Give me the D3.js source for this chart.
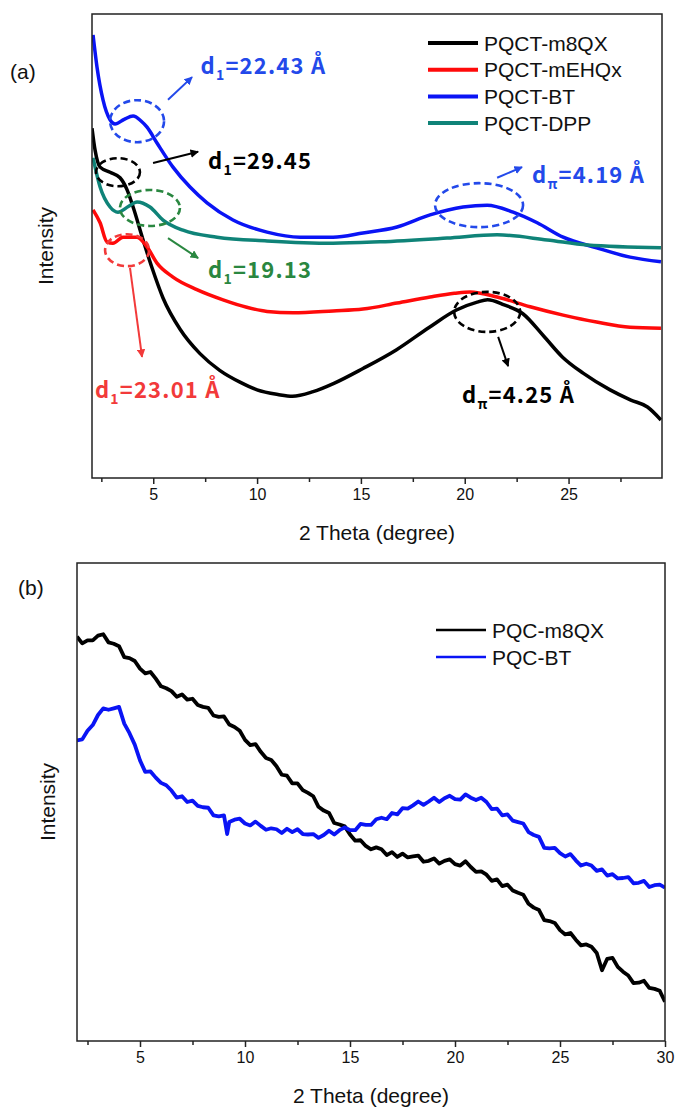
<!DOCTYPE html>
<html>
<head>
<meta charset="utf-8">
<script src="https://cdn.jsdelivr.net/npm/d3@7"></script>
<style>
  body { margin: 0; background: #fff; }
  text { font-family: "Liberation Sans", Arial, sans-serif; }
  .ann { font-family: "Noto Sans CJK KR", "Noto Sans", sans-serif; font-weight: bold; letter-spacing: 1.2px; }
</style>
</head>
<body>
<div id="chart"></div>
<script>
// ---- panel (a) data: 2 theta (degree) vs intensity (a.u.) ----
var thetaM8QX = [2.05,2.2,2.44,2.92,3.4,3.74,4.03,4.51,4.94,5.47,6.3,7.25,8.2,9.2,10.0,11.0,11.7,12.7,13.7,15.1,16.7,18.3,19.6,20.6,21.1,21.9,22.8,23.8,24.7,25.7,27.0,28.0,28.8,29.45];
var intM8QX   = [75.4,70.6,67,65.9,64.7,62.1,58.4,51.3,45.3,38.8,32,26.8,23.2,20.6,19.0,18.0,17.6,18.6,20.4,23.6,27.6,32.5,36.2,37.9,38.4,37.3,35.4,30.6,26.1,22.6,19,16.8,15.3,12.5];

var thetaMEHQx = [2.1,2.44,2.77,3.06,3.54,4.22,4.7,5.18,5.95,7.1,8.36,9.5,10.48,11.73,13.66,15.1,16.74,18.33,19.5,20.26,21.56,23.15,24.74,26.35,27.96,29.45];
var intMEHQx   = [57.8,55,50.9,50.6,51.9,51.9,49.8,46.3,43.3,40.6,38.4,36.8,35.9,35.6,36.0,36.4,37.7,39.0,39.8,40.1,39.0,36.9,35.1,33.6,32.5,32.3];

var thetaBT = [2.1,2.29,2.58,2.92,3.16,3.6,4.03,4.4,4.7,5.18,5.95,6.77,7.59,8.84,10.48,12.07,13.66,15.1,16.74,18.33,19.92,21.08,22.33,23.49,24.74,26.35,27.96,29.45];
var intBT   = [95.5,88.6,81.5,77.2,76.3,77.3,78.0,77,75.6,72.2,67.0,62.7,59.3,55.6,53.0,51.9,51.9,52.8,54.1,56.7,58.4,58.8,57.3,55.0,51.9,49.6,47.6,46.6];

var thetaDPP = [2.1,2.44,2.92,3.3,3.8,4.22,4.84,5.47,6.43,8.07,10.48,13.66,15.92,19.15,21.56,23.97,25.9,29.45];
var intDPP   = [69.0,62.7,58.4,57.3,58.5,59.5,58.4,55.6,53.4,51.9,51.1,50.6,50.9,51.7,52.4,51.3,50.2,49.6];

var namesA = ["PQCT-m8QX", "PQCT-mEHQx", "PQCT-BT", "PQCT-DPP"];

// ---- panel (b) data (noisy scans, read every 0.25 degree) ----
var thetaPQCm8QX = [
  2,2.25,2.5,2.75, 3,3.25,3.5,3.75, 4,4.25,4.5,4.75, 5,5.25,5.5,5.75, 6,6.25,6.5,6.75,
  7,7.25,7.5,7.75, 8,8.25,8.5,8.75, 9,9.25,9.5,9.75, 10,10.25,10.5,10.75, 11,11.25,11.5,11.75,
  12,12.25,12.5,12.75, 13,13.25,13.5,13.75, 14,14.25,14.5,14.75, 15,15.25,15.5,15.75,
  16,16.25,16.5,16.75, 17,17.25,17.5,17.75, 18,18.25,18.5,18.75, 19,19.25,19.5,19.75,
  20,20.25,20.5,20.75, 21,21.25,21.5,21.75, 22,22.25,22.5,22.75, 23,23.25,23.5,23.75,
  24,24.25,24.5,24.75, 25,25.25,25.5,25.75, 26,26.25,26.5,26.75, 27,27.25,27.5,27.75,
  28,28.25,28.5,28.75, 29,29.25,29.5,29.75, 30];
var intPQCm8QX = [
  84.6,83.2,83.8,83.8, 84.8,85.1,83.4,83.1, 82.6,80.3,80.1,79.5, 77.9,76.9,77.2,75.8, 74.2,73.8,73.2,72.0,
  72.5,71.4,71.6,70.3, 69.9,69.7,68.1,67.8, 67.9,66.2,65.7,64.9, 63.0,61.9,62.1,60.5, 59.2,58.8,57.5,55.7,
  55.5,53.9,53.9,52.5, 51.9,51.2,49.0,48.2, 47.7,45.6,45.3,44.9, 43.2,41.9,42.0,40.8,
  40.1,40.5,40.1,38.9, 39.5,38.5,39.2,38.4, 38.6,38.8,37.5,37.7, 38.2,37.1,37.7,38.0,
  37.0,36.7,37.6,36.4, 35.4,35.5,34.8,33.5, 33.8,32.4,32.7,31.5, 31.0,30.6,28.7,27.9,
  27.4,25.3,25.1,24.7, 23.2,22.3,22.6,21.2, 20.0,20.2,19.7,18.4, 14.8,17.2,17.4,15.5,
  14.5,13.7,12.1,12.2, 12.6,11.1,10.9,10.5, 8.2];

var thetaPQCBT = [
  2,2.25,2.5,2.75, 3,3.25,3.5,3.75, 4,4.25,4.5,4.75, 5,5.25,5.5,5.75, 6,6.25,6.5,6.75,
  7,7.25,7.5,7.75, 8,8.25,8.5,8.75, 9,9.15,9.25,9.5,9.75, 10,10.25,10.5,10.75, 11,11.25,11.5,11.75,
  12,12.25,12.5,12.75, 13,13.25,13.5,13.75, 14,14.25,14.5,14.75, 15,15.25,15.5,15.75,
  16,16.25,16.5,16.75, 17,17.25,17.5,17.75, 18,18.25,18.5,18.75, 19,19.25,19.5,19.75,
  20,20.25,20.5,20.75, 21,21.25,21.5,21.75, 22,22.25,22.5,22.75, 23,23.25,23.5,23.75,
  24,24.25,24.5,24.75, 25,25.25,25.5,25.75, 26,26.25,26.5,26.75, 27,27.25,27.5,27.75,
  28,28.25,28.5,28.75, 29,29.25,29.5,29.75, 30];
var intPQCBT = [
  62.9,63.1,64.9,66.1, 68.2,69.6,69.3,69.6, 69.9,66.4,64.4,62.0, 58.7,56.3,56.4,55.1, 54.0,53.5,52.4,50.9,
  51.2,50.0,50.3,49.2, 48.9,48.8,47.2,47.0, 47.2,43.3,45.8,46.3,46.5, 45.5,45.1,45.9,45.0, 44.2,44.5,44.3,43.5,
  44.4,43.7,44.3,43.3, 43.2,43.3,42.5,43.1, 44.0,43.2,44.1,44.7, 44.1,44.1,45.4,45.2,
  45.2,46.4,46.7,46.4, 47.7,47.4,48.7,48.6, 49.3,50.1,49.4,50.1, 50.9,50.0,50.8,51.3,
  50.6,50.5,51.6,50.9, 50.4,50.9,50.0,48.5, 48.6,47.2,47.4,46.1, 45.8,45.5,43.7,43.1,
  42.7,40.4,40.3,40.4, 39.3,38.6,39.1,37.8, 36.7,37.1,36.7,35.6, 35.9,34.6,34.9,34.0,
  34.1,34.3,33.0,33.1, 33.5,32.2,32.6,32.7, 32.1];

var namesB = ["PQC-m8QX", "PQC-BT"];

var W = 675, H = 1109;
var svg = d3.select("#chart").append("svg")
    .attr("width", W).attr("height", H)
    .style("background", "#fff");

function zipData(xs, ys) {
  return xs.map(function(x, i) { return {x: x, y: ys[i]}; });
}

function drawPanel(p) {
  var x = d3.scaleLinear().domain(p.xDomain).range([p.left, p.right]);
  var y = d3.scaleLinear().domain([0, 100]).range([p.bottom, p.top]);
  var g = svg.append("g");

  // curves
  var line = d3.line().x(function(d) { return x(d.x); }).y(function(d) { return y(d.y); })
      .curve(p.curve);
  var clipId = "clip" + p.id;
  svg.append("clipPath").attr("id", clipId).append("rect")
      .attr("x", p.left).attr("y", p.top)
      .attr("width", p.right - p.left).attr("height", p.bottom - p.top);
  p.series.forEach(function(s) {
    g.append("path")
        .datum(zipData(s.xs, s.ys))
        .attr("clip-path", "url(#" + clipId + ")")
        .attr("fill", "none")
        .attr("stroke", s.color)
        .attr("stroke-width", p.lineWidth)
        .attr("stroke-linejoin", "round")
        .attr("d", line);
  });

  // frame
  g.append("rect")
      .attr("x", p.left).attr("y", p.top)
      .attr("width", p.right - p.left).attr("height", p.bottom - p.top)
      .attr("fill", "none").attr("stroke", "#222").attr("stroke-width", 1.5);

  // bottom axis: major + minor ticks
  var ax = g.append("g").attr("transform", "translate(0," + p.bottom + ")")
      .call(d3.axisBottom(x).tickValues(p.majors).tickSize(6).tickPadding(5).tickFormat(d3.format("d")));
  ax.select(".domain").remove();
  ax.selectAll("line").attr("stroke", "#222").attr("stroke-width", 1.5);
  ax.selectAll("text").attr("font-size", 16).attr("fill", "#111")
      .attr("font-family", "Liberation Sans, Arial, sans-serif");
  var axm = g.append("g").attr("transform", "translate(0," + p.bottom + ")")
      .call(d3.axisBottom(x).tickValues(p.minors).tickSize(4).tickFormat(""));
  axm.select(".domain").remove();
  axm.selectAll("line").attr("stroke", "#222").attr("stroke-width", 1.5);

  // axis titles
  g.append("text")
      .attr("x", (p.left + p.right) / 2).attr("y", p.bottom + 62)
      .attr("text-anchor", "middle").attr("font-size", 21).attr("fill", "#111")
      .text("2 Theta (degree)");
  g.append("text")
      .attr("transform", "translate(" + p.yTitleX + "," + ((p.top + p.bottom) / 2) + ") rotate(-90)")
      .attr("text-anchor", "middle").attr("dy", "0.35em")
      .attr("font-size", 21).attr("fill", "#111")
      .text("Intensity");
  g.append("text")
      .attr("x", p.tagX).attr("y", p.tagY).attr("dy", "0.35em")
      .attr("font-size", 21).attr("fill", "#111")
      .text(p.tag);

  // legend
  var lg = g.append("g");
  p.series.forEach(function(s, i) {
    var ly = p.legendY + i * p.legendStep;
    lg.append("line")
        .attr("x1", p.legendX).attr("x2", p.legendX + p.legendLen)
        .attr("y1", ly).attr("y2", ly)
        .attr("stroke", s.color).attr("stroke-width", p.legendWidth);
    lg.append("text")
        .attr("x", p.legendX + p.legendLen + 6).attr("y", ly).attr("dy", "0.36em")
        .attr("font-size", 21).attr("fill", "#111")
        .text(s.name);
  });

  return {x: x, y: y, g: g};
}

var panelA = drawPanel({
  id: "a", left: 92, right: 662, top: 14, bottom: 478,
  xDomain: [2.05, 29.5],
  majors: [5, 10, 15, 20, 25], minors: [2.5, 7.5, 12.5, 17.5, 22.5, 27.5],
  curve: d3.curveMonotoneX, lineWidth: 3.5,
  yTitleX: 46, tag: "(a)", tagX: 10, tagY: 72,
  legendX: 428, legendLen: 50, legendY: 43, legendStep: 26.7, legendWidth: 4,
  series: [
    {name: namesA[0], xs: thetaM8QX, ys: intM8QX, color: "#000000"},
    {name: namesA[1], xs: thetaMEHQx, ys: intMEHQx, color: "#ff0a0a"},
    {name: namesA[2], xs: thetaBT, ys: intBT, color: "#0a14f5"},
    {name: namesA[3], xs: thetaDPP, ys: intDPP, color: "#0f8378"}
  ]
});

var panelB = drawPanel({
  id: "b", left: 77, right: 665, top: 563, bottom: 1041,
  xDomain: [2, 30],
  majors: [5, 10, 15, 20, 25, 30], minors: [2.5, 7.5, 12.5, 17.5, 22.5, 27.5],
  curve: d3.curveLinear, lineWidth: 3.8,
  yTitleX: 48, tag: "(b)", tagX: 18, tagY: 588,
  legendX: 436, legendLen: 50, legendY: 630, legendStep: 27, legendWidth: 2.5,
  series: [
    {name: namesB[0], xs: thetaPQCm8QX, ys: intPQCm8QX, color: "#000000"},
    {name: namesB[1], xs: thetaPQCBT, ys: intPQCBT, color: "#0a14f5"}
  ]
});

// ---- panel (a) peak annotations (positions in data units) ----
var annLabels = ["22.43 Å", "29.45", "19.13", "23.01 Å", "4.19 Å", "4.25 Å"];
var annSubs   = ["1", "1", "1", "1", "π", "π"];
var annColors = ["#2349ea", "#000000", "#2a8740", "#f23a3a", "#2349ea", "#000000"];
var annCircle = [[4.22, 76.9, 27, 21], [3.30, 65.9, 22, 14], [4.84, 58.2, 30, 18],
                 [3.74, 49.1, 22, 16], [20.69, 58.8, 44, 22], [21.08, 35.8, 33, 20]];
var annArrow  = [[5.71, 81.5, 6.87, 86.4], [4.99, 67.9, 7.16, 70.3], [5.71, 51.7, 7.16, 47.4],
                 [3.88, 45.3, 4.46, 26.1], [21.56, 64.7, 22.76, 67.0], [21.61, 30.4, 22.09, 24.1]];
var annText   = [[7.28, 87.1], [7.64, 66.6], [7.64, 43.1], [2.19, 17.2], [23.24, 63.6], [19.87, 16.2]];

var xa = panelA.x, ya = panelA.y;
var annG = svg.append("g");
var defs = svg.append("defs");
annColors.forEach(function(c, i) {
  defs.append("marker")
      .attr("id", "arr" + i)
      .attr("viewBox", "0 0 10 10").attr("refX", 9).attr("refY", 5)
      .attr("markerWidth", 4.2).attr("markerHeight", 4.2)
      .attr("markerUnits", "strokeWidth")
      .attr("orient", "auto")
      .append("path").attr("d", "M0,0 L10,5 L0,10 z").attr("fill", c);
});

annLabels.forEach(function(lab, i) {
  var c = annColors[i], ci = annCircle[i], ar = annArrow[i], tx = annText[i];
  annG.append("ellipse")
      .attr("cx", xa(ci[0])).attr("cy", ya(ci[1]))
      .attr("rx", ci[2]).attr("ry", ci[3])
      .attr("fill", "none").attr("stroke", c)
      .attr("stroke-width", 2.6).attr("stroke-dasharray", "7,4");
  annG.append("line")
      .attr("x1", xa(ar[0])).attr("y1", ya(ar[1]))
      .attr("x2", xa(ar[2])).attr("y2", ya(ar[3]))
      .attr("stroke", c).attr("stroke-width", 2)
      .attr("marker-end", "url(#arr" + i + ")");
  var t = annG.append("text").attr("class", "ann")
      .attr("x", xa(tx[0])).attr("y", ya(tx[1]))
      .attr("font-size", 22).attr("fill", c);
  t.append("tspan").text("d");
  t.append("tspan").attr("font-size", 14).attr("dy", 6).text(annSubs[i]);
  t.append("tspan").attr("dy", -6).text("=" + lab);
});
</script>
</body>
</html>
